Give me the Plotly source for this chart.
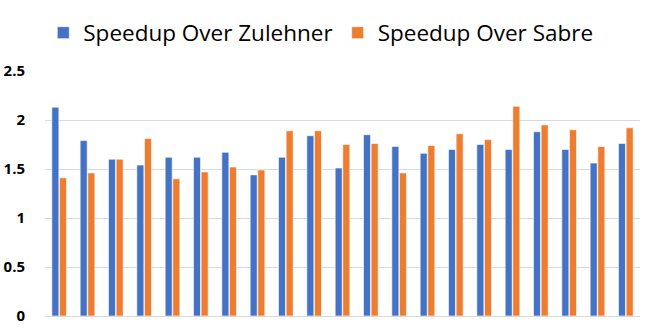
import plotly.graph_objects as go

# 21 benchmark circuits, no labels shown on the x axis
circuits = [f"c{i}" for i in range(1, 22)]

speedup_zulehner = [2.13, 1.79, 1.60, 1.54, 1.62, 1.62, 1.67, 1.44, 1.62, 1.84, 1.51,
                    1.85, 1.73, 1.66, 1.70, 1.75, 1.70, 1.88, 1.70, 1.56, 1.76]
speedup_sabre = [1.41, 1.46, 1.60, 1.81, 1.40, 1.47, 1.52, 1.49, 1.89, 1.89, 1.75,
                 1.76, 1.46, 1.74, 1.86, 1.80, 2.14, 1.95, 1.90, 1.73, 1.92]

BLUE = "#4472C4"
ORANGE = "#ED7D31"

fig = go.Figure()
fig.add_trace(go.Bar(x=circuits, y=speedup_zulehner, name="Speedup Over Zulehner",
                     marker=dict(color=BLUE, line=dict(color="rgba(255,255,255,0.6)", width=1))))
fig.add_trace(go.Bar(x=circuits, y=speedup_sabre, name="Speedup Over Sabre",
                     marker=dict(color=ORANGE, line=dict(color="rgba(255,255,255,0.6)", width=1))))

fig.update_layout(
    width=664, height=328,
    margin=dict(l=45, r=24, t=71, b=12, autoexpand=False),
    plot_bgcolor="white", paper_bgcolor="white",
    barmode="group", bargap=0.46, bargroupgap=0.08,
    font=dict(family="Open Sans, sans-serif", color="black"),
    legend=dict(orientation="h", x=0.4635, xanchor="center", y=1.155, yanchor="middle",
                font=dict(size=22.5), itemwidth=30, traceorder="normal"),
    showlegend=True,
)
fig.update_yaxes(range=[0, 2.5], dtick=0.5, showgrid=True, gridcolor="#d9d9d9", gridwidth=1,
                 zeroline=False, showline=False,
                 tickfont=dict(size=15, family="Open Sans, sans-serif", weight="bold"),
                 ticklabelstandoff=19)
fig.update_xaxes(showticklabels=False, showline=True, linecolor="#d9d9d9", linewidth=1,
                 ticks="", showgrid=False)

# drop the default 8px body margin so the figure sits at the page corner
fig.write_html("out.html", config={"displayModeBar": False},
               post_script="document.body.style.margin = '0';")
